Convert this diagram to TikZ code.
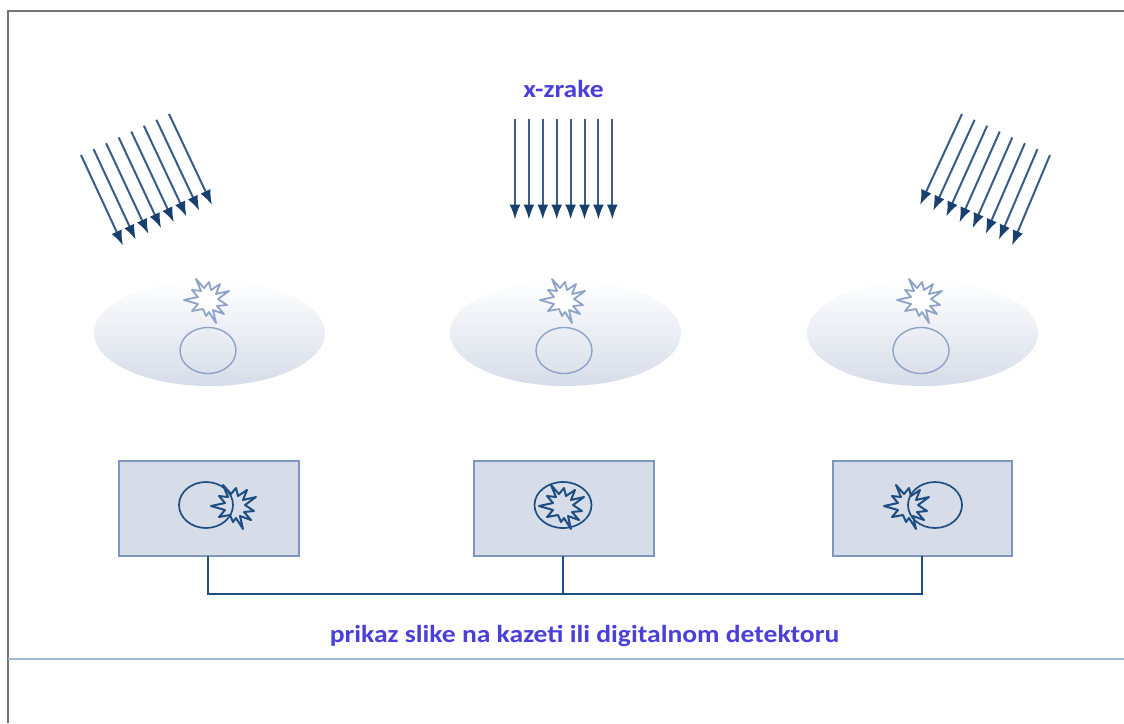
\documentclass[tikz,border=0pt]{standalone}
\usepackage{fontspec}
\setmainfont{Carlito}
\newfontface\capfont[FakeStretch=1.126]{Carlito Bold}
\usetikzlibrary{arrows.meta,shapes.geometric}
\definecolor{ray}{HTML}{17406F}
\definecolor{boxfill}{HTML}{D6DCE8}
\definecolor{boxline}{HTML}{7F97BC}
\definecolor{lbl}{HTML}{4A3FD8}
\definecolor{wire}{HTML}{1F4E80}
\definecolor{softline}{HTML}{8FA3C6}
\tikzset{
  x=1pt,y=-1pt,
  rayarrow/.style={draw=ray!85!white,line width=2pt,-{Latex[length=15pt,width=11pt,ray]}},
  body/.style={ellipse,inner sep=0pt,minimum width=231pt,minimum height=106pt,top color=white,bottom color=boxfill,middle color=boxfill!50!white},
  organ/.style={draw=softline,line width=1.4pt},
  film/.style={draw=boxline,line width=1.8pt,fill=boxfill,inner sep=0pt},
  filmorgan/.style={draw=wire,line width=1.7pt},
  wireline/.style={draw=wire,line width=2pt},
  caption/.style={text=lbl,font=\capfont\fontsize{24.5pt}{28pt}\selectfont,inner sep=0pt},
  pics/burst/.style={code={
    \draw[line join=round,#1]
      (-23,-1)--(-9,-4)--(-15,-11)--(-6,-10)--(-11,-22)--(-3,-13)--(2,-19)--(4,-11)
      --(13,-17)--(9,-7)--(22,-10)--(11,-2)--(20,4)--(10,5)--(17,13)--(6,9)--(9,22)
      --(2,11)--(-1,15)--(-4,8)--(-15,10)--(-9,3)--cycle;
  }},
  softburst/.style={draw=softline,fill=white,line width=1.8pt},
  filmburst/.style={draw=wire,line width=2pt},
}
\begin{document}
\begin{tikzpicture}
\path[use as bounding box,fill=white] (0,0) rectangle (1124,723);
% page frame
\coordinate (fa) at (8,723); \coordinate (fb) at (8,11); \coordinate (fc) at (1124,11);
\draw[draw=black!55,line width=1.5pt] (fa)--(fb)--(fc);
\coordinate (ra) at (8,659); \coordinate (rb) at (1124,659);
\draw[draw=boxline!70!white,line width=1.1pt] (ra)--(rb);

% rays
\foreach \i in {0,...,7}{
  \coordinate (ls\i) at ({81+12.57*\i},{155-5.86*\i});
  \coordinate (le\i) at ({123+12.71*\i},{245.5-5.79*\i});
  \draw[rayarrow] (ls\i)--(le\i);
  \coordinate (ms\i) at ({515+13.9*\i},119);
  \coordinate (me\i) at ({515+13.9*\i},219.5);
  \draw[rayarrow] (ms\i)--(me\i);
  \coordinate (rs\i) at ({1050-12.57*\i},{155-5.86*\i});
  \coordinate (re\i) at ({1012-13.14*\i},{245.5-5.79*\i});
  \draw[rayarrow] (rs\i)--(re\i);
}
\node[caption] (xz) at (563.5,89) {x-zrake};

% bodies
\foreach \n/\cx in {1/209.5,2/565.5,3/922.5}{
  \node[body] (body\n) at (\cx,333) {};
  \node[organ,ellipse,inner sep=0pt,minimum width=56pt,minimum height=46pt] (org\n) at ({\cx-1.5},350.5) {};
  \pic at ({\cx-2.5},301) {burst=softburst};
}

% films
\node[film,minimum width=180pt,minimum height=95pt] (film1) at (209,508.5) {};
\node[film,minimum width=180pt,minimum height=95pt] (film2) at (564,508.5) {};
\node[film,minimum width=179pt,minimum height=95pt] (film3) at (922.5,508.5) {};

\node[filmorgan,ellipse,inner sep=0pt,minimum width=54pt,minimum height=46pt] (fo1) at (206,505) {};
\pic at (234,507) {burst=filmburst};
\node[filmorgan,ellipse,inner sep=0pt,minimum width=57pt,minimum height=46pt] (fo2) at (563,505) {};
\pic at (562,507) {burst=filmburst};
\node[filmorgan,ellipse,inner sep=0pt,minimum width=54pt,minimum height=46pt] (fo3) at (935,505) {};
\pic at (907,507) {burst=filmburst};

% connectors
\coordinate (t1) at (207.5,556); \coordinate (t2) at (563,556); \coordinate (t3) at (922,556);
\coordinate (bus) at (563,594);
\draw[wireline] (t1) |- (bus) -| (t3);
\draw[wireline] (t2) -- (bus);
\node[caption] (cap) at (584.5,636) {prikaz slike na kazeti ili digitalnom detektoru};
\end{tikzpicture}
\end{document}
